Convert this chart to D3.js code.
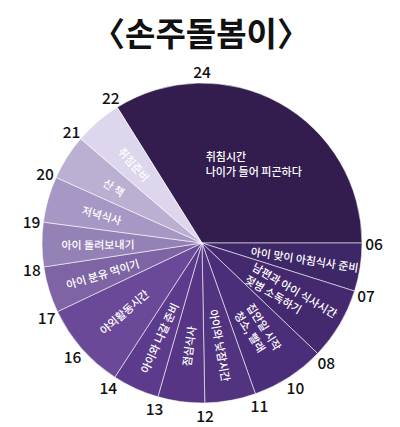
<!DOCTYPE html>
<html><head><meta charset="utf-8">
<script src="https://cdn.jsdelivr.net/npm/d3@7"></script>
<style>body{margin:0;background:#fff}</style>
</head><body><svg id="c" width="400" height="427"></svg>
<script>
const title = "〈손주돌봄이〉";
const activities = [
  "취침시간\n나이가 들어 피곤하다",
  "아이 맞이 아침식사 준비",
  "남편과 아이 식사시간\n젖병 소독하기",
  "집안일 시작\n청소, 빨래",
  "아이와 낮잠시간",
  "점심식사",
  "아이와 나갈 준비",
  "야외활동시간",
  "아이 분유 먹이기",
  "아이 돌려보내기",
  "저녁식사",
  "산 책",
  "취침준비"
];
// slice sizes in degrees of the clock face
const sliceSizes = [122, 17.5, 26.2, 26.8, 18.5, 17, 17, 31.6, 16.8, 16.1, 16.7, 16.5, 17.3];
const startHours = ["22","06","07","08","11","12","13","14","17","18","19","20","21"];
const midHours   = ["","","","10","","","","16","","","","",""];
const topHour = "24";
const colors = ["#331d4f","#3e2766","#45296f","#4b2e79","#52337f","#563684","#5d3b8c","#6a4a98","#7e64a4","#9481b6","#a797c4","#bcb0d2","#ddd6ec"];

const svg = d3.select("#c");
const cx = 202, cy = 243, R = 160;
const font = "'Noto Sans CJK KR', 'Noto Sans', sans-serif";

svg.append("text").attr("x", 201).attr("y", 46).attr("text-anchor", "middle")
  .attr("font-family", font).attr("font-weight", 700).attr("font-size", 33)
  .attr("fill", "#111").text(title);

const start = -32 * Math.PI / 180;
const pie = d3.pie().sort(null).value(d => d).startAngle(start).endAngle(start + 2 * Math.PI);
const arcs = pie(sliceSizes);
const arc = d3.arc().innerRadius(0).outerRadius(R);
const g = svg.append("g").attr("transform", `translate(${cx},${cy})`);

g.selectAll("path.s").data(arcs).join("path").attr("class", "s")
  .attr("d", arc).attr("fill", (d, i) => colors[i])
  .attr("stroke", "rgba(255,255,255,0.7)").attr("stroke-width", 0.8);

const pt = (a, r) => [r * Math.sin(a), -r * Math.cos(a)];

// hour labels
const hourData = [];
arcs.forEach((d, i) => {
  hourData.push({ t: startHours[i], a: d.startAngle });
  if (midHours[i]) hourData.push({ t: midHours[i], a: (d.startAngle + d.endAngle) / 2 });
});
hourData.push({ t: topHour, a: 0 });
const rH = 172;
g.selectAll("text.h").data(hourData).join("text").attr("class", "h")
  .attr("x", d => pt(d.a, rH)[0]).attr("y", d => pt(d.a, rH)[1])
  .attr("text-anchor", "middle").attr("dominant-baseline", "central")
  .attr("font-family", font).attr("font-size", 15.5).attr("font-weight", 500)
  .attr("fill", "#111").text(d => d.t);

// slice labels
const rL = 104, fs = 11, lh = 14.5;
arcs.forEach((d, i) => {
  const lines = activities[i].split("\n");
  const mid = (d.startAngle + d.endAngle) / 2;
  const deg = mid * 180 / Math.PI;
  let rot, p;
  if (i === 0) {
    p = pt(33 * Math.PI / 180, 95); rot = 0;
  } else {
    p = pt(mid, rL);
    rot = deg < 180 ? deg - 90 : deg + 90 - 360;
    if (deg < 0) rot = deg + 90;
  }
  const t = g.append("text")
    .attr("transform", `translate(${p[0]},${p[1]}) rotate(${rot})`)
    .attr("font-family", font).attr("font-size", fs).attr("font-weight", 500)
    .attr("fill", "#fff").attr("text-anchor", "start");
  const ts = lines.map((l, k) => t.append("tspan").attr("x", 0)
    .attr("y", (k - (lines.length - 1) / 2) * lh).attr("dominant-baseline", "central").text(l));
  let w = 0; ts.forEach(s => { w = Math.max(w, s.node().getComputedTextLength()); });
  ts.forEach(s => s.attr("x", -w / 2));
});
</script></body></html>
